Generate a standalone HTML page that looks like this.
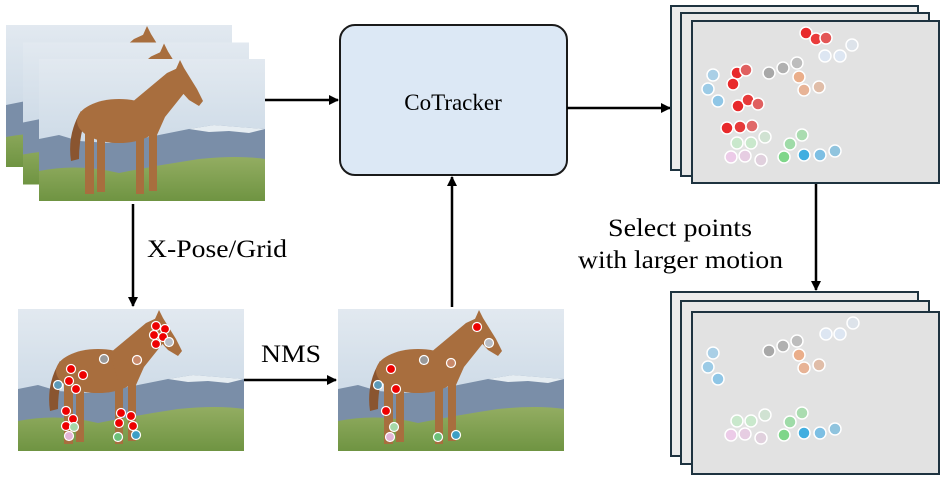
<!DOCTYPE html>
<html><head><meta charset="utf-8"><style>
html,body{margin:0;padding:0;background:#fff;}
svg{display:block;}
text{font-family:"Liberation Serif",serif;fill:#000;}
</style></head><body>
<svg width="945" height="479" viewBox="0 0 945 479" xmlns="http://www.w3.org/2000/svg">
<defs>
<linearGradient id="sky" x1="0" y1="0" x2="0" y2="1">
<stop offset="0" stop-color="#e2e9f0"/><stop offset="1" stop-color="#c0d1e1"/></linearGradient>
<linearGradient id="grass" x1="0" y1="0" x2="0" y2="1">
<stop offset="0" stop-color="#93ad62"/><stop offset="1" stop-color="#6f9442"/></linearGradient>
<symbol id="img" viewBox="0 0 226 142">
<rect width="226" height="142" fill="url(#sky)"/>
<path d="M0 80 L20 76 L40 82 L70 84 L110 78 L150 70 L175 66 L200 68 L226 70 L226 128 L0 128Z" fill="#7a8ea8"/>
<path d="M150 70 L175 66 L200 68 L226 70 L210 74 L190 72 L170 73Z" fill="#e6edf2"/>
<path d="M0 112 Q40 104 80 114 Q120 106 160 100 Q200 96 226 100 L226 142 L0 142Z" fill="url(#grass)"/>
<g fill="#a86e3e">
<path d="M42 52 Q28 75 32 102 L40 100 Q40 78 47 58Z" fill="#8a5530"/>
<ellipse cx="80" cy="62" rx="42" ry="22"/>
<path d="M92 44 L128 14 L141 8 L150 28 L126 58 L118 76 L100 72Z"/>
<path d="M137 10 L141 1 L145 9 L158 30 L164 42 L160 47 L150 41 L140 30Z"/>
<rect x="46" y="72" width="9" height="63"/>
<rect x="58" y="76" width="8" height="57"/>
<rect x="97" y="72" width="8" height="63"/>
<rect x="110" y="70" width="8" height="62"/>
</g>
</symbol>
<marker id="ah" markerWidth="10" markerHeight="10" refX="9" refY="5" orient="auto" markerUnits="userSpaceOnUse">
<path d="M0 0 L10 5 L0 10Z" fill="#000"/></marker>
</defs>

<use href="#img" x="6" y="24" width="226" height="144"/>
<use href="#img" x="23" y="41" width="226" height="145"/>
<use href="#img" x="39" y="58" width="226" height="144"/>

<use href="#img" x="18" y="308" width="226" height="144"/>
<use href="#img" x="338" y="308" width="226" height="144"/>

<rect x="340" y="25" width="227" height="150" rx="15" fill="#dce8f5" stroke="#1a1a1a" stroke-width="2"/>
<text x="453" y="110" font-size="23" text-anchor="middle">CoTracker</text>

<g stroke="#000" stroke-width="2.5" fill="none">
<line x1="265" y1="100" x2="338" y2="100" marker-end="url(#ah)"/>
<line x1="567" y1="108" x2="670" y2="108" marker-end="url(#ah)"/>
<line x1="133" y1="204" x2="133" y2="306" marker-end="url(#ah)"/>
<line x1="244" y1="380" x2="336" y2="380" marker-end="url(#ah)"/>
<line x1="452" y1="307" x2="452" y2="177" marker-end="url(#ah)"/>
<line x1="816" y1="184" x2="816" y2="290" marker-end="url(#ah)"/>
</g>

<text x="147" y="257" font-size="25" textLength="140" lengthAdjust="spacingAndGlyphs">X-Pose/Grid</text>
<text x="261" y="362" font-size="25" textLength="60" lengthAdjust="spacingAndGlyphs">NMS</text>
<text x="608" y="236" font-size="25" textLength="144" lengthAdjust="spacingAndGlyphs">Select points</text>
<text x="578" y="268" font-size="25" textLength="205" lengthAdjust="spacingAndGlyphs">with larger motion</text>

<g stroke="#1e3340" stroke-width="2">
<rect x="671" y="6" width="247" height="164" fill="#ececec"/>
<rect x="681" y="13" width="248" height="163" fill="#e8e8e8"/>
<rect x="692" y="21" width="247" height="162" fill="#e2e2e2"/>
<rect x="671" y="292" width="247" height="164" fill="#ececec"/>
<rect x="681" y="301" width="248" height="163" fill="#e8e8e8"/>
<rect x="692" y="312" width="247" height="162" fill="#e2e2e2"/>
</g>

<g stroke="#fff" stroke-width="1.5">
<circle cx="852" cy="45" r="6" fill="#dde3ea"/><circle cx="825" cy="56" r="6" fill="#dde6f2"/><circle cx="840" cy="56" r="6" fill="#dde6f2"/>
<circle cx="713" cy="75" r="6" fill="#a9cfe6"/><circle cx="708" cy="89" r="6" fill="#9ccbe6"/><circle cx="718" cy="101" r="6" fill="#8fc6e6"/>
<circle cx="769" cy="73" r="6" fill="#a8a8a8"/><circle cx="783" cy="68" r="6" fill="#b0b0b0"/><circle cx="797" cy="63" r="6" fill="#bdbdbd"/>
<circle cx="799" cy="77" r="6" fill="#eaae8a"/><circle cx="804" cy="90" r="6" fill="#e7b396"/><circle cx="819" cy="87" r="6" fill="#e0bda8"/>
<circle cx="806" cy="33" r="6" fill="#e8292b"/><circle cx="816" cy="39" r="6" fill="#ea3c3c"/><circle cx="826" cy="38" r="6" fill="#e35555"/>
<circle cx="737" cy="73" r="6" fill="#e8292b"/><circle cx="746" cy="70" r="6" fill="#e06060"/><circle cx="733" cy="84" r="6" fill="#e8292b"/>
<circle cx="738" cy="106" r="6" fill="#e8292b"/><circle cx="748" cy="100" r="6" fill="#e63a3a"/><circle cx="758" cy="104" r="6" fill="#e06060"/>
<circle cx="727" cy="128" r="6" fill="#e8292b"/><circle cx="740" cy="127" r="6" fill="#e63a3a"/><circle cx="752" cy="126" r="6" fill="#e06868"/>
<circle cx="737" cy="143" r="6" fill="#c9e8cc"/><circle cx="751" cy="143" r="6" fill="#c9e8cc"/><circle cx="765" cy="137" r="6" fill="#d0e2d2"/><circle cx="790" cy="144" r="6" fill="#9fdba8"/><circle cx="802" cy="135" r="6" fill="#aadcb0"/>
<circle cx="731" cy="157" r="6" fill="#eccbe8"/><circle cx="745" cy="156" r="6" fill="#e6cde2"/><circle cx="761" cy="160" r="6" fill="#e0d0dd"/>
<circle cx="784" cy="157" r="6" fill="#7fd68a"/><circle cx="804" cy="155" r="6" fill="#41aee0"/><circle cx="820" cy="155" r="6" fill="#7dbfe3"/><circle cx="835" cy="151" r="6" fill="#90c4de"/>

<circle cx="853" cy="323" r="6" fill="#dde3ea"/><circle cx="826" cy="334" r="6" fill="#dde6f2"/><circle cx="840" cy="334" r="6" fill="#dde6f2"/>
<circle cx="713" cy="353" r="6" fill="#a9cfe6"/><circle cx="708" cy="367" r="6" fill="#9ccbe6"/><circle cx="718" cy="379" r="6" fill="#8fc6e6"/>
<circle cx="769" cy="351" r="6" fill="#a8a8a8"/><circle cx="783" cy="346" r="6" fill="#b0b0b0"/><circle cx="797" cy="341" r="6" fill="#bdbdbd"/>
<circle cx="799" cy="355" r="6" fill="#eaae8a"/><circle cx="804" cy="368" r="6" fill="#e7b396"/><circle cx="819" cy="365" r="6" fill="#e0bda8"/>
<circle cx="737" cy="421" r="6" fill="#c9e8cc"/><circle cx="751" cy="421" r="6" fill="#c9e8cc"/><circle cx="765" cy="415" r="6" fill="#d0e2d2"/><circle cx="790" cy="422" r="6" fill="#9fdba8"/><circle cx="802" cy="413" r="6" fill="#aadcb0"/>
<circle cx="731" cy="435" r="6" fill="#eccbe8"/><circle cx="745" cy="434" r="6" fill="#e6cde2"/><circle cx="761" cy="438" r="6" fill="#e0d0dd"/>
<circle cx="784" cy="435" r="6" fill="#7fd68a"/><circle cx="804" cy="433" r="6" fill="#41aee0"/><circle cx="820" cy="433" r="6" fill="#7dbfe3"/><circle cx="835" cy="429" r="6" fill="#90c4de"/>

<g stroke-width="1.2">
<circle cx="156" cy="326" r="4.5" fill="#e00"/><circle cx="165" cy="329" r="4.5" fill="#e00"/><circle cx="154" cy="335" r="4.5" fill="#e00"/><circle cx="163" cy="337" r="4.5" fill="#e00"/><circle cx="156" cy="344" r="4.5" fill="#e00"/><circle cx="169" cy="342" r="4.5" fill="#b8bcc4"/>
<circle cx="104" cy="359" r="4.5" fill="#999"/><circle cx="137" cy="360" r="4.5" fill="#c8896a"/>
<circle cx="71" cy="369" r="4.5" fill="#e00"/><circle cx="83" cy="375" r="4.5" fill="#e00"/><circle cx="69" cy="381" r="4.5" fill="#e00"/><circle cx="76" cy="389" r="4.5" fill="#e00"/><circle cx="58" cy="385" r="4.5" fill="#5d9ab8"/>
<circle cx="66" cy="411" r="4.5" fill="#e00"/><circle cx="73" cy="419" r="4.5" fill="#e00"/><circle cx="66" cy="426" r="4.5" fill="#e00"/><circle cx="74" cy="427" r="4.5" fill="#a6d8a8"/><circle cx="69" cy="436" r="4.5" fill="#e2b5d6"/>
<circle cx="121" cy="413" r="4.5" fill="#e00"/><circle cx="131" cy="416" r="4.5" fill="#e00"/><circle cx="119" cy="423" r="4.5" fill="#e00"/><circle cx="133" cy="426" r="4.5" fill="#e00"/><circle cx="118" cy="437" r="4.5" fill="#6cc07a"/><circle cx="136" cy="435" r="4.5" fill="#3d9fc4"/>

<circle cx="477" cy="327" r="4.5" fill="#e00"/><circle cx="489" cy="343" r="4.5" fill="#b8bcc4"/><circle cx="424" cy="360" r="4.5" fill="#999"/><circle cx="451" cy="363" r="4.5" fill="#c8896a"/>
<circle cx="391" cy="369" r="4.5" fill="#e00"/><circle cx="378" cy="385" r="4.5" fill="#5d9ab8"/><circle cx="396" cy="389" r="4.5" fill="#e00"/><circle cx="386" cy="411" r="4.5" fill="#e00"/>
<circle cx="394" cy="427" r="4.5" fill="#a6d8a8"/><circle cx="390" cy="437" r="4.5" fill="#e2b5d6"/><circle cx="438" cy="437" r="4.5" fill="#6cc07a"/><circle cx="456" cy="435" r="4.5" fill="#3d9fc4"/>
</g>
</g>
</svg>
</body></html>
